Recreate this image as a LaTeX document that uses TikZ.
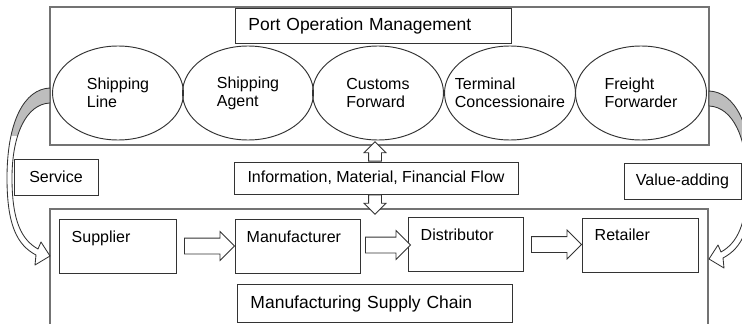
\documentclass[tikz,border=0pt]{standalone}
\usepackage{fontspec}
\setmainfont{Liberation Sans}
\usetikzlibrary{shapes.geometric,shapes.arrows,calc}
\definecolor{bigline}{rgb}{0.45,0.45,0.45}
\definecolor{boxline}{rgb}{0.2,0.2,0.2}
\definecolor{ribgray}{rgb}{0.74,0.74,0.74}
\newcommand{\ribbonpath}{(50,88) .. controls (24,89) and (7,122) .. (7,178) .. controls (7,225) and (17,245) .. (36,255) -- (35,265) -- (50,256) -- (41,242) -- (38,249) .. controls (22,240) and (12,222) .. (12,178) .. controls (12,135) and (26,104) .. (50,103) -- cycle}
\begin{document}
\begin{tikzpicture}[x=1pt,y=-1pt,
  bigbox/.style={draw=bigline,line width=1.8pt,inner sep=0},
  box/.style={draw=boxline,line width=0.95pt,inner sep=0,fill=white},
  oval/.style={ellipse,draw=boxline,line width=0.95pt,minimum width=131,minimum height=94,inner sep=0},
  ovaltext/.style={align=left,inner sep=0,font=\fontsize{16}{18}\selectfont},
  lbl/.style={font=\fontsize{16}{19}\selectfont},
  ttl/.style={font=\fontsize{17.5}{21}\selectfont},
  boxtext/.style={inner sep=0,anchor=north west,font=\fontsize{16}{19}\selectfont},
  harrow/.style={single arrow,draw=boxline,line width=0.85pt,fill=white,inner sep=7.5,minimum width=28,single arrow head extend=6.5,minimum height=50},
  varrow/.style={single arrow,draw=boxline,line width=0.85pt,fill=white,inner sep=6,minimum width=21,single arrow head extend=4.5},
  ribbon/.pic={
    \fill[white] \ribbonpath;
    \begin{scope}
      \clip (0,80) rectangle (52,135);
      \fill[ribgray] \ribbonpath;
    \end{scope}
    \draw[boxline,line width=0.85pt,line join=round] \ribbonpath;
  }
]
\useasboundingbox (0,0) rectangle (742,324);
\fill[white] (0,0) rectangle (742,324);
\clip (0,0) rectangle (742,324);

% big frames
\node[bigbox,minimum width=659,minimum height=138] (port) at (379.5,76) {};
\node[bigbox,minimum width=658,minimum height=131] (msc) at (379,274.5) {};

% title boxes
\node[box,ttl,anchor=north west,minimum height=35,text width=250,inner xsep=13,align=left] (pom) at (235,8) {Port Operation Management};

% ellipses
\node[oval] (sl) at (118,93) {};
\node[oval] (sa) at (248,93) {};
\node[oval] (cf) at (378,93) {};
\node[oval] (tc) at (510,93) {};
\node[oval] (ff) at (641,93) {};
\node[ovaltext] (slt) at (sl) {Shipping\\Line};
\node[ovaltext] (sat) at (sa) {Shipping\\Agent};
\node[ovaltext] (cft) at (cf) {Customs\\Forward};
\node[ovaltext] (tct) at (tc) {Terminal\\Concessionaire};
\node[ovaltext] (fft) at (ff) {Freight\\Forwarder};

% middle labels
\node[box,lbl,minimum width=284,minimum height=32] (flow) at (376,178) {Information, Material, Financial Flow};
\node[box,lbl,minimum width=84,minimum height=36] (serv) at (56,177) {Service};
\node[box,lbl,minimum width=117,minimum height=36] (val) at (682.5,181) {Value-adding};

% supply chain boxes
\node[box,minimum width=117,minimum height=54] (sup) at (117.5,246) {};
\node[box,minimum width=125,minimum height=54] (man) at (297.5,246) {};
\node[box,minimum width=115,minimum height=54] (dis) at (465.5,244) {};
\node[box,minimum width=116,minimum height=54] (ret) at (640,245) {};
\node[boxtext] (supt) at ($(sup.north west)+(13,12)$) {Supplier};
\node[boxtext] (mant) at ($(man.north west)+(12,12)$) {Manufacturer};
\node[boxtext] (dist) at ($(dis.north west)+(13,12)$) {Distributor};
\node[boxtext] (rett) at ($(ret.north west)+(13,11)$) {Retailer};

\node[box,ttl,anchor=north west,minimum height=38,text width=249,inner xsep=13,align=left] (mscl) at (237,284) {Manufacturing Supply Chain};

% block arrows
\node[harrow] (a1) at ($(sup.east)!0.5!(man.west)$) {};
\node[harrow,minimum height=45] (a2) at ($(man.east)!0.5!(dis.west)$) {};
\node[harrow] (a3) at ($(dis.east)!0.5!(ret.west)$) {};
\node[varrow,shape border rotate=90,anchor=tail,minimum height=16] (up) at ($(flow.north)+(-1,0)$) {};
\node[varrow,shape border rotate=270,anchor=tail,minimum height=15] (down) at ($(flow.south)+(-1,0)$) {};

% curved arrows
\pic at (0,0) {ribbon};
\pic[xscale=-1] at (759,3) {ribbon};
\end{tikzpicture}
\end{document}
